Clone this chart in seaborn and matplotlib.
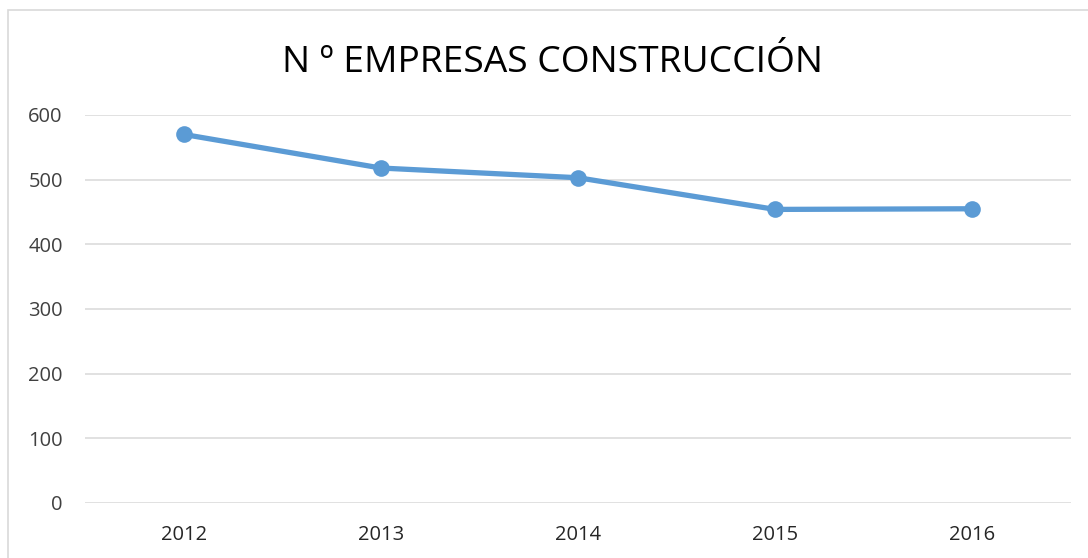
import matplotlib.pyplot as plt
import matplotlib.patches as mpatches
import pandas as pd
import seaborn as sns

anios = ["2012", "2013", "2014", "2015", "2016"]
empresas = [570, 518, 503, 454, 455]
ticks_y = [0, 100, 200, 300, 400, 500, 600]

sns.set_theme(style="white")
plt.rcParams["font.family"] = ["Open Sans", "DejaVu Sans"]

df = pd.DataFrame({"anio": anios, "empresas": empresas})

fig = plt.figure(figsize=(10.88, 5.58), dpi=100)
ax = fig.add_axes([85 / 1088, 1 - 503 / 558, (1071 - 85) / 1088, (503 - 115) / 558])

sns.lineplot(data=df, x="anio", y="empresas", ax=ax, color="#5B9BD5",
             linewidth=3.8, marker="o", markersize=12, markeredgewidth=0)

ax.set_xlim(-0.5, len(anios) - 0.5)
ax.set_ylim(0, 600)
ax.set_yticks(ticks_y)
ax.grid(axis="y", color="#D9D9D9", linewidth=1.1)
ax.set_axisbelow(True)
for s in ax.spines.values():
    s.set_visible(False)
ax.tick_params(axis="y", length=0, pad=16, labelsize=14.5, labelcolor="#404040")
ax.tick_params(axis="x", length=0, pad=16, labelsize=14.5, labelcolor="#262626")
ax.set_xlabel("")
ax.set_ylabel("")

# marco del gráfico
fig.patches.append(mpatches.Rectangle((8 / 1088, -0.1), 1.2, 1 - 10 / 558 + 0.1,
                                      transform=fig.transFigure, fill=False,
                                      edgecolor="#D9D9D9", linewidth=1.2))

fig.text(553 / 1088, 1 - 72 / 558, "N º EMPRESAS CONSTRUCCIÓN", ha="center",
         va="baseline", fontsize=26.8, color="#000000")

fig.savefig("out.png", dpi=100)
